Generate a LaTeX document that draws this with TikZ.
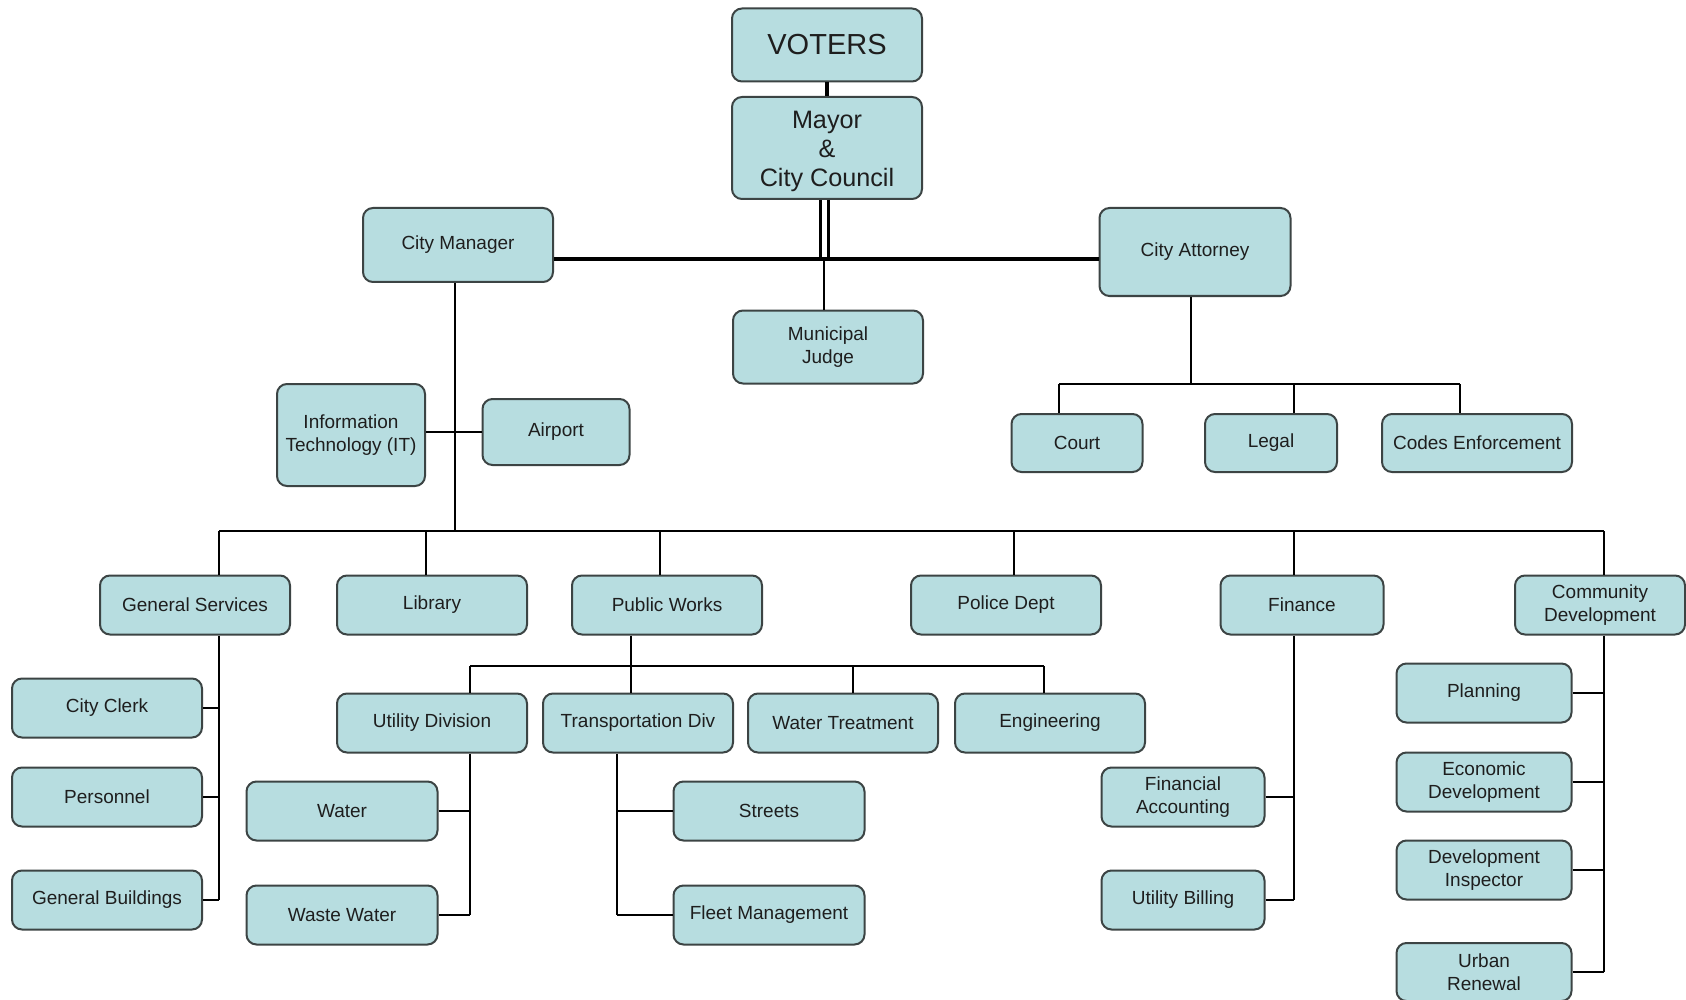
\documentclass[tikz,border=0pt]{standalone}
\usepackage{fontspec}
\setmainfont{Liberation Sans}
\definecolor{boxfill}{RGB}{183,221,224}
\definecolor{boxline}{RGB}{60,68,68}
\definecolor{txt}{RGB}{30,30,30}
\tikzset{
  box/.style={draw=boxline, fill=boxfill, text=txt, rounded corners=5pt, line width=1pt, align=center, inner sep=0pt, font=\fontsize{9.5}{11.6}\selectfont},
  wn/.style={minimum width=95pt, minimum height=29.5pt},
  conn/.style={draw=black, line width=0.8pt},
  heavy/.style={draw=black, line width=2pt},
}
\begin{document}
\begin{tikzpicture}[x=0.5pt,y=-0.5pt]
\useasboundingbox[fill=white] (0,0) rectangle (1686,1000);

% top
\node[box, minimum width=95pt, minimum height=36.5pt, font=\fontsize{14.5}{17}\selectfont] (voters) at (827,45) {VOTERS};
\node[box, minimum width=95pt, minimum height=51pt, font=\fontsize{12.6}{14.5}\selectfont] (mayor) at (827,148) {};
\node[text=txt, align=center, inner sep=0pt, font=\fontsize{12.6}{14.5}\selectfont] (mayortext) at (827,151) {Mayor\\\&\\City Council};
\node[box, minimum width=95pt, minimum height=37pt] (cm) at (458,245) {City Manager};
\node[box, minimum width=95.5pt, minimum height=44pt] (ca) at (1195,252) {City Attorney};
\node[box, minimum width=95pt, minimum height=36.5pt] (mj) at (828,347) {Municipal\\Judge};

\draw[heavy] (voters) -- (mayor);
\coordinate (hub) at (824,259);
\draw[heavy] (cm.east |- hub) -- (ca.west |- hub);
\draw[draw=black, line width=1.5pt] ([xshift=-3.5pt]mayor.south) -- ([xshift=-3.5pt]mayor.south |- hub);
\draw[draw=black, line width=1.5pt] ([xshift=0.5pt]mayor.south) -- ([xshift=0.5pt]mayor.south |- hub);
\draw[conn] (hub) -- (hub |- mj.north);

% city attorney branch
\node[box, minimum width=65.5pt, minimum height=29pt] (court) at (1077,443) {Court};
\node[box, minimum width=66pt, minimum height=29pt] (legal) at (1271,443) {Legal};
\node[box, minimum width=95pt, minimum height=29pt] (codes) at (1477,443) {Codes Enforcement};
\coordinate (cab) at (1191,384);
\coordinate (cbl) at (1059,384);
\coordinate (cbm) at (1294,384);
\coordinate (cbr) at (1460,384);
\draw[conn] (ca.south -| cab) -- (cab);
\draw[conn] (cbl) -- (cbr);
\draw[conn] (cbl) -- (cbl |- court.north);
\draw[conn] (cbm) -- (cbm |- legal.north);
\draw[conn] (cbr) -- (cbr |- codes.north);

% city manager branch
\node[box, minimum width=74pt, minimum height=51pt] (it) at (351,435) {Information\\Technology (IT)};
\node[box, minimum width=73.5pt, minimum height=33pt] (ap) at (556,432) {Airport};
\coordinate (mb) at (455,531);
\draw[conn] (mb |- cm.south) -- (mb);
\draw[conn] (it.east |- ap.west) -- (ap.west);

% main row
\node[box, wn] (gs) at (195,605) {General Services};
\node[box, wn] (lib) at (432,605) {Library};
\node[box, wn] (pw) at (667,605) {Public Works};
\node[box, wn] (pd) at (1006,605) {Police Dept};
\node[box, minimum width=81.5pt, minimum height=29.5pt] (fin) at (1302,605) {Finance};
\node[box, minimum width=85pt, minimum height=29.5pt] (cd) at (1600,605) {Community\\Development};

\coordinate (bgs) at (219,531);
\coordinate (blib) at (426,531);
\coordinate (bpw) at (660,531);
\coordinate (bpd) at (1014,531);
\coordinate (bfin) at (1294,531);
\coordinate (bcd) at (1604,531);
\draw[conn] (bgs) -- (bcd);
\draw[conn] (bgs) -- (bgs |- gs.north);
\draw[conn] (blib) -- (blib |- lib.north);
\draw[conn] (bpw) -- (bpw |- pw.north);
\draw[conn] (bpd) -- (bpd |- pd.north);
\draw[conn] (bfin) -- (bfin |- fin.north);
\draw[conn] (bcd) -- (bcd |- cd.north);

% general services children
\node[box, wn] (cc) at (107,708) {City Clerk};
\node[box, wn] (pers) at (107,797) {Personnel};
\node[box, wn] (gb) at (107,900) {General Buildings};
\draw[conn] (bgs |- gs.south) -- (bgs |- gb.east);
\draw[conn] (cc.east) -- (cc.east -| bgs);
\draw[conn] (pers.east) -- (pers.east -| bgs);
\draw[conn] (gb.east) -- (gb.east -| bgs);

% public works children
\node[box, wn] (ud) at (432,723) {Utility Division};
\node[box, wn] (td) at (638,723) {Transportation Div};
\node[box, wn] (wt) at (843,723) {Water Treatment};
\node[box, wn] (eng) at (1050,723) {Engineering};
\coordinate (pwb) at (631,666);
\coordinate (pwl) at (470,666);
\coordinate (pwm) at (853,666);
\coordinate (pwr) at (1044,666);
\draw[conn] (pwb |- pw.south) -- (pwb);
\draw[conn] (pwl) -- (pwr);
\draw[conn] (pwl) -- (pwl |- ud.north);
\draw[conn] (pwb) -- (pwb |- td.north);
\draw[conn] (pwm) -- (pwm |- wt.north);
\draw[conn] (pwr) -- (pwr |- eng.north);

% utility division children
\node[box, minimum width=95.5pt, minimum height=29.5pt] (water) at (342,811) {Water};
\node[box, minimum width=95.5pt, minimum height=29.5pt] (ww) at (342,915) {Waste Water};
\coordinate (udv) at (470,0);
\draw[conn] (udv |- ud.south) -- (udv |- ww.east);
\draw[conn] (water.east) -- (water.east -| udv);
\draw[conn] (ww.east) -- (ww.east -| udv);

% transportation children
\node[box, minimum width=95.5pt, minimum height=29.5pt] (streets) at (769,811) {Streets};
\node[box, minimum width=95.5pt, minimum height=29.5pt] (fleet) at (769,915) {Fleet Management};
\coordinate (tdv) at (617,0);
\draw[conn] (tdv |- td.south) -- (tdv |- fleet.west);
\draw[conn] (streets.west) -- (streets.west -| tdv);
\draw[conn] (fleet.west) -- (fleet.west -| tdv);

% finance children
\node[box, minimum width=81.5pt, minimum height=29.5pt] (fa) at (1183,797) {Financial\\Accounting};
\node[box, minimum width=81.5pt, minimum height=29.5pt] (ub) at (1183,900) {Utility Billing};
\draw[conn] (bfin |- fin.south) -- (bfin |- ub.east);
\draw[conn] (fa.east) -- (fa.east -| bfin);
\draw[conn] (ub.east) -- (ub.east -| bfin);

% community development children
\node[box, minimum width=87.5pt, minimum height=29.5pt] (plan) at (1484,693) {Planning};
\node[box, minimum width=87.5pt, minimum height=29.5pt] (ed) at (1484,782) {Economic\\Development};
\node[box, minimum width=87.5pt, minimum height=29.5pt] (di) at (1484,870) {Development\\Inspector};
\node[box, minimum width=87.5pt, minimum height=29pt] (ur) at (1484,972) {Urban\\Renewal};
\draw[conn] (bcd |- cd.south) -- (bcd |- ur.east);
\draw[conn] (plan.east) -- (plan.east -| bcd);
\draw[conn] (ed.east) -- (ed.east -| bcd);
\draw[conn] (di.east) -- (di.east -| bcd);
\draw[conn] (ur.east) -- (ur.east -| bcd);
\end{tikzpicture}
\end{document}
